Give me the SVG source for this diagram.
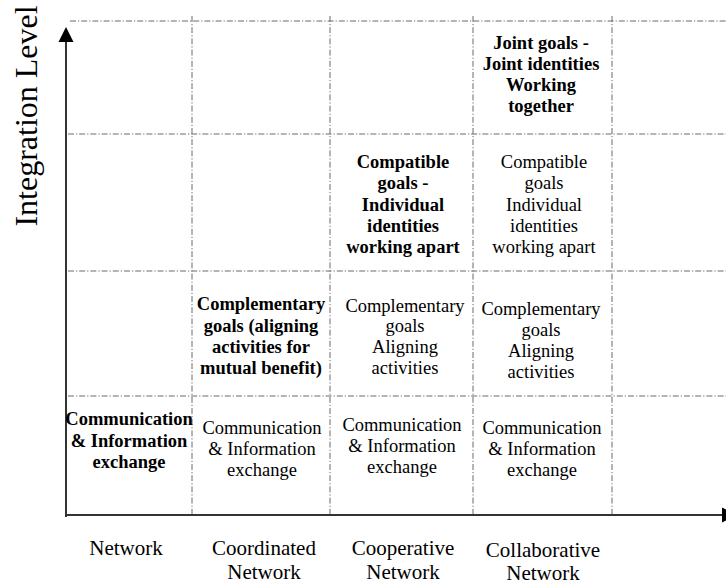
<svg xmlns="http://www.w3.org/2000/svg" width="726" height="585" viewBox="0 0 726 585">
  <style>
    .grid { stroke: #6a6a6a; stroke-width: 1; fill: none; stroke-dasharray: 6 2 1.2 2; }
    .axis { stroke: #333; stroke-width: 2; fill: none; }
    .head { fill: #000; }
    text { font-family: "Liberation Serif", "Times New Roman", serif; fill: #000; text-anchor: middle; }
    .cell { font-size: 18.5px; }
    .b { font-weight: bold; }
    .lab { font-size: 21px; }
    .ylab { font-size: 32px; }
  </style>
  <rect width="726" height="585" fill="#fff"/>

  <g id="connectors">
    <!-- grid rows -->
    <line class="grid" x1="70" y1="21" x2="726" y2="21"/>
    <line class="grid" x1="68" y1="134" x2="726" y2="134"/>
    <line class="grid" x1="68" y1="271" x2="726" y2="271"/>
    <line class="grid" x1="68" y1="396" x2="726" y2="396"/>
    <!-- grid columns -->
    <line class="grid" x1="192" y1="16" x2="192" y2="515"/>
    <line class="grid" x1="330" y1="16" x2="330" y2="515"/>
    <line class="grid" x1="473" y1="16" x2="473" y2="515"/>
    <line class="grid" x1="612" y1="16" x2="612" y2="515"/>
    <!-- axes -->
    <line class="axis" x1="66" y1="517" x2="66" y2="38"/>
    <polygon class="head" points="66,27 58.5,42 73.5,42"/>
    <line class="axis" x1="65" y1="515" x2="724" y2="515"/>
    <polygon class="head" points="722,507.5 737,515 722,522.5"/>
  </g>

  <g id="y-axis-label">
    <text class="ylab" transform="translate(37,116) rotate(-90)">Integration Level</text>
  </g>

  <!-- row: communication -->
  <g id="network-communication">
    <text class="cell b" x="129" y="425">Communication</text>
    <text class="cell b" x="129" y="447">&amp; Information</text>
    <text class="cell b" x="129" y="468">exchange</text>
  </g>
  <g id="coordinated-communication">
    <text class="cell" x="262" y="434">Communication</text>
    <text class="cell" x="262" y="455">&amp; Information</text>
    <text class="cell" x="262" y="476">exchange</text>
  </g>
  <g id="cooperative-communication">
    <text class="cell" x="402" y="431">Communication</text>
    <text class="cell" x="402" y="452">&amp; Information</text>
    <text class="cell" x="402" y="473">exchange</text>
  </g>
  <g id="collaborative-communication">
    <text class="cell" x="542" y="434">Communication</text>
    <text class="cell" x="542" y="455">&amp; Information</text>
    <text class="cell" x="542" y="476">exchange</text>
  </g>

  <!-- row: complementary goals -->
  <g id="coordinated-complementary">
    <text class="cell b" x="261" y="310">Complementary</text>
    <text class="cell b" x="261" y="332">goals (aligning</text>
    <text class="cell b" x="261" y="353">activities for</text>
    <text class="cell b" x="261" y="374">mutual benefit)</text>
  </g>
  <g id="cooperative-complementary">
    <text class="cell" x="405" y="312">Complementary</text>
    <text class="cell" x="405" y="332">goals</text>
    <text class="cell" x="405" y="353">Aligning</text>
    <text class="cell" x="405" y="374">activities</text>
  </g>
  <g id="collaborative-complementary">
    <text class="cell" x="541" y="315">Complementary</text>
    <text class="cell" x="541" y="336">goals</text>
    <text class="cell" x="541" y="357">Aligning</text>
    <text class="cell" x="541" y="378">activities</text>
  </g>

  <!-- row: compatible goals -->
  <g id="cooperative-compatible">
    <text class="cell b" x="403" y="168">Compatible</text>
    <text class="cell b" x="403" y="189">goals -</text>
    <text class="cell b" x="403" y="210.5">Individual</text>
    <text class="cell b" x="403" y="232">identities</text>
    <text class="cell b" x="403" y="253">working apart</text>
  </g>
  <g id="collaborative-compatible">
    <text class="cell" x="544" y="168">Compatible</text>
    <text class="cell" x="544" y="189">goals</text>
    <text class="cell" x="544" y="210.5">Individual</text>
    <text class="cell" x="544" y="232">identities</text>
    <text class="cell" x="544" y="253">working apart</text>
  </g>

  <!-- row: joint goals -->
  <g id="collaborative-joint">
    <text class="cell b" x="541" y="49">Joint goals -</text>
    <text class="cell b" x="541" y="70">Joint identities</text>
    <text class="cell b" x="541" y="91">Working</text>
    <text class="cell b" x="541" y="112">together</text>
  </g>

  <!-- x-axis categories -->
  <g id="label-network">
    <text class="lab" x="126" y="555">Network</text>
  </g>
  <g id="label-coordinated">
    <text class="lab" x="264" y="555">Coordinated</text>
    <text class="lab" x="264" y="579">Network</text>
  </g>
  <g id="label-cooperative">
    <text class="lab" x="403" y="555">Cooperative</text>
    <text class="lab" x="403" y="579">Network</text>
  </g>
  <g id="label-collaborative">
    <text class="lab" x="543" y="557">Collaborative</text>
    <text class="lab" x="543" y="580">Network</text>
  </g>
</svg>
